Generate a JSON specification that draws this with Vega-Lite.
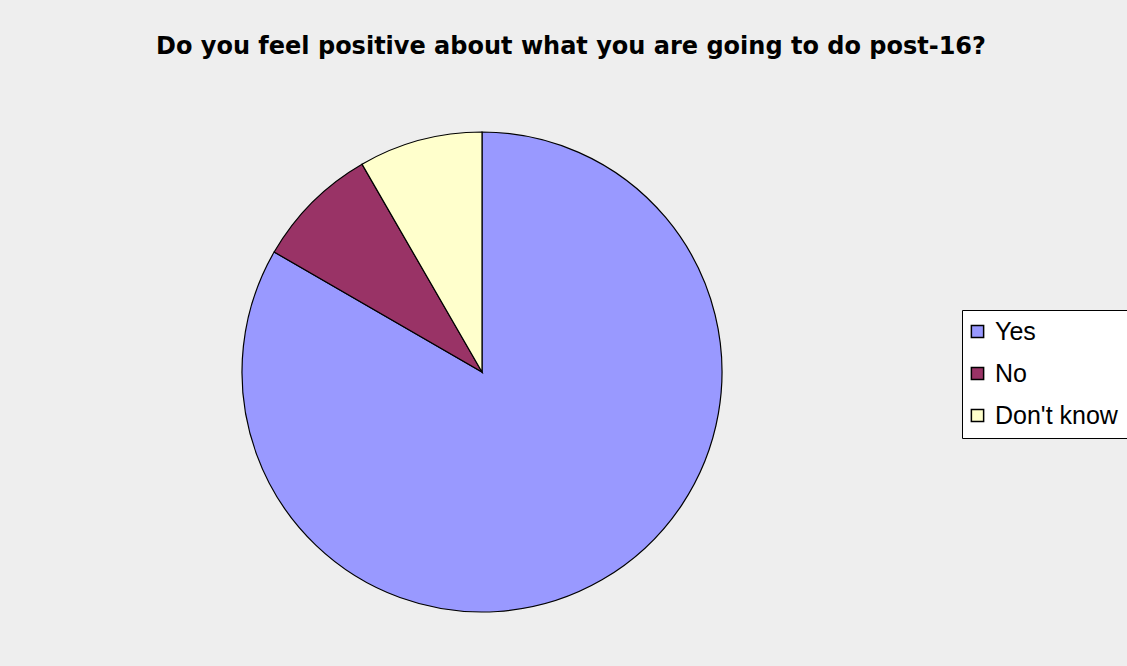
{
  "$schema": "https://vega.github.io/schema/vega-lite/v6.json",
  "autosize": "none",
  "width": 480,
  "height": 480,
  "padding": {"left": 242, "top": 132, "right": 405, "bottom": 54},
  "background": "#EEEEEE",
  "config": {"view": {"stroke": null}},
  "title": {
    "text": "Do you feel positive about what you are going to do post-16?",
    "font": "DejaVu Sans",
    "fontSize": 24,
    "fontWeight": "bold",
    "color": "black",
    "anchor": "middle",
    "dx": 89,
    "offset": 71
  },
  "data": {
    "values": [
      {"answer": "Yes", "count": 10},
      {"answer": "No", "count": 1},
      {"answer": "Don't know", "count": 1}
    ]
  },
  "mark": {"type": "arc", "outerRadius": 240, "stroke": "black", "strokeWidth": 1.2},
  "encoding": {
    "theta": {"field": "count", "type": "quantitative", "stack": true},
    "order": {"field": "count", "type": "quantitative", "sort": "descending"},
    "color": {
      "field": "answer",
      "type": "nominal",
      "sort": ["Yes", "No", "Don't know"],
      "scale": {"domain": ["Yes", "No", "Don't know"], "range": ["#9999FF", "#993366", "#FFFFCC"]},
      "legend": {
        "title": null,
        "orient": "none",
        "legendX": 720,
        "legendY": 178,
        "padding": 9,
        "fillColor": "white",
        "strokeColor": "black",
        "symbolType": "square",
        "symbolSize": 150,
        "symbolOffset": -6,
        "symbolStrokeColor": "black",
        "symbolStrokeWidth": 1.5,
        "symbolOpacity": 1,
        "labelFont": "Liberation Sans",
        "labelFontSize": 25,
        "labelColor": "black",
        "labelOffset": 5,
        "rowPadding": 16,
        "labelLimit": 300
      }
    }
  }
}
